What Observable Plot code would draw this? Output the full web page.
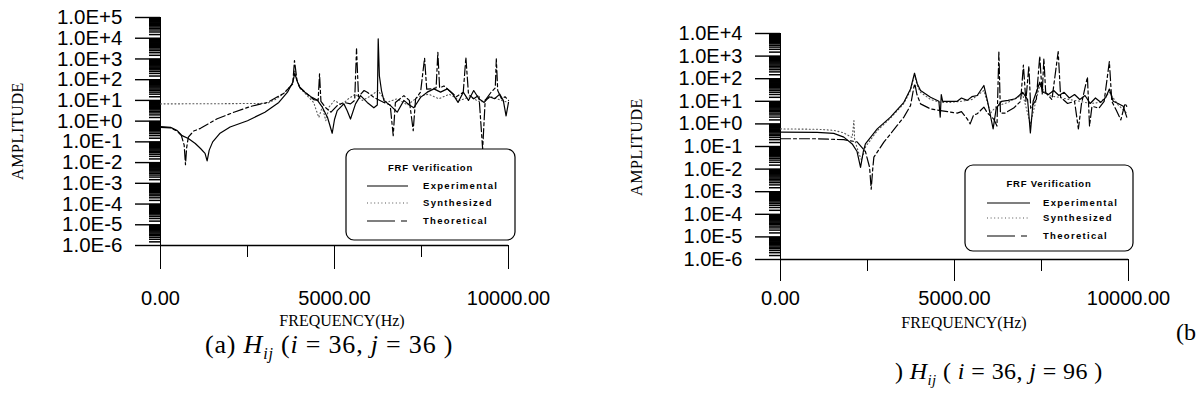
<!DOCTYPE html>
<html><head><meta charset="utf-8">
<script src="https://cdn.jsdelivr.net/npm/d3@7"></script>
<script src="https://cdn.jsdelivr.net/npm/@observablehq/plot@0.6"></script>
<style>
body{margin:0;background:#fff;}
#wrap{position:relative;width:1204px;height:405px;overflow:hidden;background:#fff;}
</style></head><body><div id="wrap"></div>
<script>
// ---------- data: panel (a) H_ij (i=36, j=36) ----------
const aExpF = [0,290,480,620,800,1000,1150,1280,1340,1400,1500,1700,2000,2500,3000,3400,3650,3800,3860,3920,4000,4150,4350,4500,4650,4800,4934,5000,5078,5270,5365,5460,5604,5748,5940,6131,6230,6256,6290,6350,6419,6610,6802,6994,7150,7281,7473,7665,7857,8048,8240,8400,8550,8700,8850,9000,9150,9300,9450,9600,9750,9850,9930,10000];
const aExpA = [0.54,0.5,0.35,0.2,0.145,0.083,0.048,0.028,0.012,0.04,0.1,0.25,0.52,1.05,2.7,8,25,75,205,90,43,25,14,10.5,4.7,1.5,0.26,1.2,3.2,6.8,3.2,1.26,6.8,17,8,4.4,6,9300,150,30,10,5.6,2.7,10,6,4.4,14,25,36,25,36,20,8,25,10,30,12,8,15,12,20,10,1.8,8];
const aTheoF = [0,290,480,600,680,718,750,800,950,1150,1630,2110,2590,3070,3545,3800,3850,3920,4000,4150,4400,4530,4570,4610,4750,4900,5078,5270,5460,5580,5633,5690,5850,5940,6131,6419,6600,6687,6750,6994,7150,7262,7330,7473,7588,7650,7780,7920,7970,8020,8144,8300,8500,8700,8775,8850,9000,9150,9257,9330,9500,9620,9650,9690,9800,9900,10000];
const aTheoA = [0.5,0.47,0.33,0.2,0.07,0.0079,0.05,0.17,0.33,0.45,1.3,2.7,5.1,8,22,63,830,100,43,25,11,10,190,9,4.4,2.7,5.6,8,6.8,10,3100,15,30,25,14,8,6,0.2,8,17,10,0.35,12,25,1100,35,36,40,2100,40,50,30,15,25,1200,20,12,18,0.045,10,25,40,1000,30,12,15,10];
const aSynF = [0,1500,3066,3300,3545,3800,3860,3920,4000,4200,4400,4480,4550,4650,4750,4850,5000,5200,5400,5600,5800,6000,6250,6500,6800,7100,7400,7700,8000,8300,8600,8900,9200,9500,9800,10000];
const aSynA = [6.8,6.9,7.2,11,22,65,300,90,40,18,8,3.2,1.5,5,1.05,5,10,6,12,20,10,15,30,8,12,6,15,20,12,20,10,15,8,15,10,8];

// ---------- data: panel (b) H_ij (i=36, j=96) ----------
const bExpF = [0,1050,1530,1820,2060,2200,2300,2380,2440,2780,3160,3545,3736,3851,3930,4024,4311,4551,4590,4620,4660,4886,5078,5200,5365,5500,5653,5844,5950,6036,6110,6200,6350,6540,6750,6960,7100,7180,7260,7450,7550,7700,7850,8000,8150,8300,8450,8600,8750,8900,9050,9200,9350,9450,9560,9700,9850,9950];
const bExpA = [0.43,0.42,0.38,0.26,0.13,0.06,0.012,0.06,0.13,0.6,2,9,35,175,60,30,15,10,2,20,10,10,10,14,11,16,18,50,10,2.2,0.6,5,10,11,13,25,12,0.4,10,70,25,20,30,18,25,14,20,12,18,8,14,9,15,35,10,8,6,2];
const bTheoF = [0,1050,1820,2200,2440,2560,2606,2650,2683,2970,3161,3353,3545,3736,3832,3860,3920,4024,4311,4599,4886,5078,5200,5365,5450,5550,5653,5844,5950,6036,6131,6220,6275,6320,6450,6700,6900,6980,7050,7137,7190,7350,7450,7520,7568,7620,7800,7980,8050,8250,8450,8560,8650,8820,8880,8950,9150,9300,9450,9520,9650,9780,9900,9950];
const bTheoA = [0.22,0.22,0.2,0.16,0.06,0.012,0.0013,0.01,0.034,0.155,0.36,0.85,2,6.5,42,60,20,7.7,4.6,3.9,3.3,3,3.5,1.66,1,2.5,2.8,5.5,3,2.3,1.6,0.8,1500,3,3,5,10,400,10,370,5,12,1000,20,800,25,12,1600,15,8,10,0.6,8,120,0.8,6,5,10,575,10,4,1.5,8,6];
const bSynF = [0,1050,1530,1820,2060,2110,2130,2250,2330,2450,2780,3160,3545,3736,3851,3930,4024,4311,4600,4886,5200,5500,5844,6036,6200,6540,6960,7180,7450,7700,8000,8300,8600,8900,9200,9450,9700,9950];
const bSynA = [0.6,0.58,0.52,0.4,0.25,1.4,0.2,0.05,0.025,0.1,0.5,1.8,8,30,150,50,25,12,9,9,10,12,30,3,6,9,20,1,50,18,15,12,10,8,9,25,7,3];

// ---------- ticks & labels ----------
const yTicksA = [1e-6,1e-5,1e-4,1e-3,1e-2,1e-1,1e0,1e1,1e2,1e3,1e4,1e5];
const yTicksB = [1e-6,1e-5,1e-4,1e-3,1e-2,1e-1,1e0,1e1,1e2,1e3,1e4];
const minorMult = [1.5,2,2.5,3,3.5,4,4.5,5,5.5,6,6.5,7,7.5,8,8.5,9,9.5];
const xTicks = [0,5000,10000];
const xMinorTicks = [2500,7500];
const xTitle = "FREQUENCY(Hz)";
const yTitle = "AMPLITUDE";
const legendTitle = "FRF Verification";
const legendLabels = ["Experimental","Synthesized","Theoretical"];

const fmtE = d => { const e = Math.round(Math.log10(d)); return "1.0E" + (e >= 0 ? "+" : "-") + Math.abs(e); };
const rows = (F, A) => F.map((f, i) => ({f, a: A[i]}));

const styles = {
  exp: {stroke: "black", strokeWidth: 1.2},
  syn: {stroke: "#555", strokeWidth: 1.1, strokeDasharray: "1,2.6"},
  theo: {stroke: "black", strokeWidth: 1.2, strokeDasharray: "10,3,3,3"}
};

function panel(exp, syn, theo, yTicks, o) {
  const minor = [];
  for (const t of yTicks.slice(0, -1)) for (const m of minorMult) minor.push(t * m);
  const svg = Plot.plot({
    width: o.width, height: o.height,
    marginLeft: o.ml, marginRight: o.mr, marginTop: o.mt, marginBottom: o.mb,
    style: {background: "transparent", overflow: "visible", color: "black", fontFamily: "Liberation Sans, Arial, sans-serif"},
    x: {domain: [0, 10000]},
    y: {type: "log", domain: [yTicks[0], yTicks[yTicks.length - 1]]},
    marks: [
      Plot.axisY({ticks: minor, tickSize: 11, fill: "none", label: null, strokeWidth: 1.5}),
      Plot.axisY({ticks: yTicks, tickSize: 25, tickPadding: 13, tickFormat: fmtE, fontSize: o.yFont, label: null, strokeWidth: 1.4}),
      Plot.axisX({ticks: xMinorTicks, tickSize: 12, fill: "none", label: null}),
      Plot.axisX({ticks: xTicks, tickSize: o.xTick, tickPadding: o.xPad, tickFormat: d => d.toFixed(2), fontSize: 20, label: null}),
      Plot.ruleY([yTicks[0]], {strokeWidth: 1.4}),
      Plot.ruleX([0]),
      Plot.line(syn, {x: "f", y: "a", ...styles.syn}),
      Plot.line(theo, {x: "f", y: "a", ...styles.theo}),
      Plot.line(exp, {x: "f", y: "a", ...styles.exp})
    ]
  });
  svg.style.position = "absolute";
  svg.style.left = o.left + "px";
  svg.style.top = "0px";
  return svg;
}

const wrap = document.getElementById("wrap");
wrap.appendChild(panel(rows(aExpF, aExpA), rows(aSynF, aSynA), rows(aTheoF, aTheoA), yTicksA,
  {left: 0, width: 600, height: 340, ml: 160, mr: 92, mt: 17, mb: 95, yFont: 20.5, xTick: 24, xPad: 21}));
wrap.appendChild(panel(rows(bExpF, bExpA), rows(bSynF, bSynA), rows(bTheoF, bTheoA), yTicksB,
  {left: 600, width: 604, height: 340, ml: 180, mr: 76, mt: 33, mb: 81, yFont: 20, xTick: 22, xPad: 9}));

// ---------- legends ----------
function legend(x, y, w, h, ty, ry, lx1, lx2, tx) {
  const svg = d3.create("svg").attr("width", w + 4).attr("height", h + 4)
    .style("position", "absolute").style("left", (x - 2) + "px").style("top", (y - 2) + "px");
  svg.append("rect").attr("x", 2).attr("y", 2).attr("width", w).attr("height", h).attr("rx", 8)
    .attr("fill", "white").attr("stroke", "black").attr("stroke-width", 1.2);
  svg.append("text").attr("x", w / 2 + 2).attr("y", ty + 2).attr("text-anchor", "middle")
    .attr("font-family", "Liberation Sans, Arial, sans-serif").attr("font-weight", "bold")
    .attr("font-size", 9.5).attr("letter-spacing", 0.8).attr("dominant-baseline", "middle").text(legendTitle);
  const ls = [styles.exp, styles.syn, {stroke: "black", strokeWidth: 1.2, strokeDasharray: "28,6,6,100"}];
  legendLabels.forEach((lab, i) => {
    svg.append("line").attr("x1", lx1 + 2).attr("x2", lx2 + 2).attr("y1", ry[i] + 2).attr("y2", ry[i] + 2)
      .attr("stroke", ls[i].stroke).attr("stroke-width", ls[i].strokeWidth)
      .attr("stroke-dasharray", ls[i].strokeDasharray || null);
    svg.append("text").attr("x", tx + 2).attr("y", ry[i] + 2).attr("dominant-baseline", "middle")
      .attr("font-family", "Liberation Sans, Arial, sans-serif").attr("font-weight", "bold")
      .attr("font-size", 9.5).attr("letter-spacing", 1.3).text(lab);
  });
  return svg.node();
}
wrap.appendChild(legend(346, 149, 169, 91, 19, [37, 54, 72], 21, 62, 77));
wrap.appendChild(legend(965, 165, 168, 86, 19, [38, 53, 71], 22, 65, 78));

// ---------- titles & captions ----------
const ov = d3.create("svg").attr("width", 1204).attr("height", 405)
  .style("position", "absolute").style("left", "0px").style("top", "0px").style("white-space", "pre");
const serif = "Liberation Serif, Times New Roman, serif";
[[17, 131], [636, 147]].forEach(([x, y]) => {
  ov.append("text").attr("transform", `translate(${x},${y}) rotate(-90)`).attr("text-anchor", "middle")
    .attr("dominant-baseline", "central").attr("font-family", serif).attr("font-size", 16)
    .attr("letter-spacing", 0.6).text(yTitle);
});
[[342, 326], [964, 328]].forEach(([x, y]) => {
  ov.append("text").attr("x", x).attr("y", y).attr("text-anchor", "middle")
    .attr("font-family", serif).attr("font-size", 16).text(xTitle);
});
const captionA = [["(a) "], ["H", "i"], ["ij", "s"], [" ("], ["i", "i"], [" = 36, "], ["j", "i"], [" = 36 )"]];
const captionB = [[") "], ["H", "i"], ["ij", "s"], [" ( "], ["i", "i"], [" = 36, "], ["j", "i"], [" = 96 )"]];
function caption(x, y, parts, size, spacing) {
  const t = ov.append("text").attr("x", x).attr("y", y).attr("font-family", serif).attr("font-size", size)
    .attr("letter-spacing", spacing);
  let sub = false;
  parts.forEach(([s, k]) => {
    const ts = t.append("tspan").text(s);
    if (k === "i" || k === "s") ts.attr("font-style", "italic");
    if (k === "s") { ts.attr("font-size", size * 0.62).attr("dy", 6); sub = true; }
    else if (sub) { ts.attr("dy", -6); sub = false; }
  });
}
caption(205, 353, captionA, 26, 0.8);
caption(895, 379, captionB, 24, 0.4);
ov.append("text").attr("x", 1176).attr("y", 340).attr("font-family", serif).attr("font-size", 24).text("(b");
wrap.appendChild(ov.node());
</script></body></html>
